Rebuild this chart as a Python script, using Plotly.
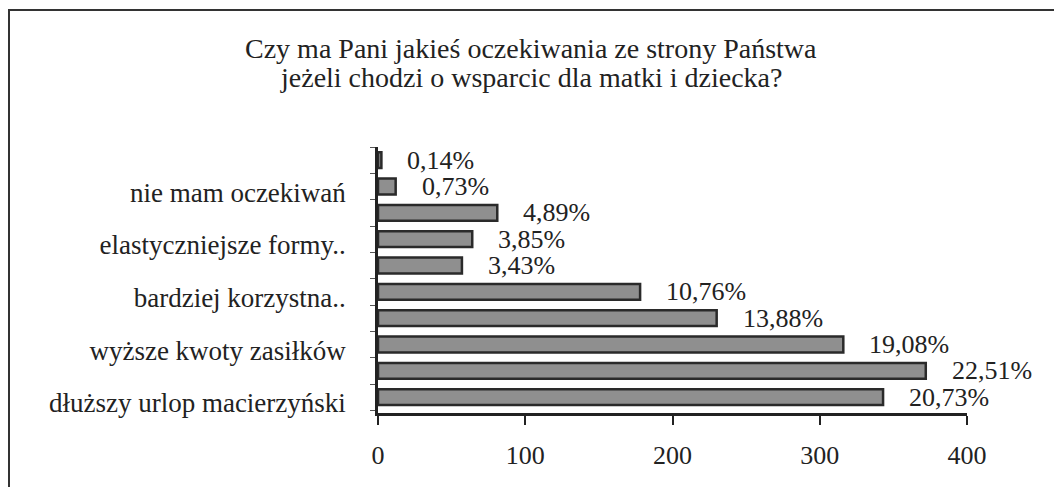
import plotly.graph_objects as go

# odpowiedzi (od dołu wykresu do góry)
kategorie = [
    "dłuższy urlop macierzyński",
    "",
    "wyższe kwoty zasiłków",
    "",
    "bardziej korzystna..",
    "",
    "elastyczniejsze formy..",
    "",
    "nie mam oczekiwań",
    "",
]
liczba = [343, 372, 316, 230, 178, 57, 64, 81, 12, 2.3]
procent = ["20,73%", "22,51%", "19,08%", "13,88%", "10,76%",
           "3,43%", "3,85%", "4,89%", "0,73%", "0,14%"]
x_ticks = [0, 100, 200, 300, 400]
tytul = ["Czy ma Pani jakieś oczekiwania ze strony Państwa",
         "jeżeli chodzi o wsparcic dla matki i dziecka?"]

FONT = "Liberation Serif, Times New Roman, DejaVu Serif, serif"
pos = list(range(len(liczba)))

fig = go.Figure()
fig.add_trace(go.Bar(
    x=liczba, y=pos, orientation="h",
    marker=dict(color="#8f8f8f", line=dict(color="#2a2a2a", width=2.5)),
    width=0.6,
    hoverinfo="skip",
))

# etykiety procentowe obok słupków
for p, v, t in zip(pos, liczba, procent):
    fig.add_annotation(x=v, y=p, text=t, xanchor="left", yanchor="middle",
                       xshift=24, showarrow=False,
                       font=dict(family=FONT, size=26, color="#222"))

# tytuł w dwóch liniach (ciaśniejszy odstęp niż w tytule plotly)
for i, linia in enumerate(tytul):
    fig.add_annotation(xref="paper", yref="paper", x=153 / 589, y=(365 - 29 * i) / 266,
                       text=linia, xanchor="center", yanchor="middle", showarrow=False,
                       font=dict(family=FONT, size=28, color="#222"))

# tylko co druga kategoria ma podpis
lab_pos = [p - 0.22 for p, k in zip(pos, kategorie) if k]
lab_txt = [k for k in kategorie if k]

fig.update_layout(
    width=1054, height=479,
    margin=dict(l=370, r=95, t=139, b=74),
    paper_bgcolor="white", plot_bgcolor="white",
    showlegend=False,
    font=dict(family=FONT, size=26, color="#222"),
)

fig.update_xaxes(
    range=[0, 400], tickvals=x_ticks, ticktext=[str(v) for v in x_ticks],
    showgrid=False, zeroline=False,
    showline=True, linecolor="#222", linewidth=2.5,
    ticks="outside", ticklen=9, tickwidth=2, tickcolor="#222",
    ticklabelstandoff=8,
    tickfont=dict(family=FONT, size=26, color="#222"),
)
fig.update_yaxes(
    range=[-0.6, 9.5], tickvals=lab_pos, ticktext=lab_txt,
    showgrid=False, zeroline=False,
    showline=True, linecolor="#222", linewidth=2.5,
    ticks="", ticklabelstandoff=24,
    minor=dict(tick0=-0.5, dtick=1, ticks="outside", ticklen=5, tickcolor="#555"),
    tickfont=dict(family=FONT, size=27, color="#222"),
)

# ramka wokół całego wykresu (prawa krawędź poza kadrem)
fig.add_shape(type="rect", xref="paper", yref="paper",
              x0=-369 / 589, x1=720 / 589, y0=-90 / 266, y1=403 / 266,
              line=dict(color="#333", width=2), layer="below")

fig.write_html("out.html")
